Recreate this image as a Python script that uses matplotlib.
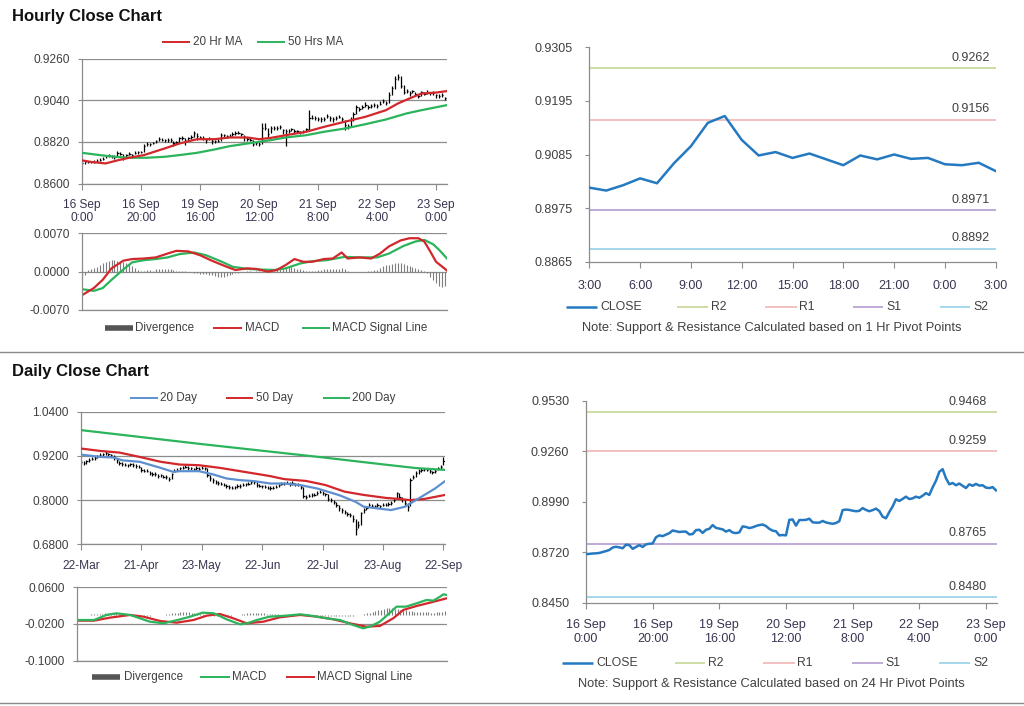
import numpy as np
import matplotlib
matplotlib.use("Agg")
import matplotlib.pyplot as plt
from matplotlib.lines import Line2D
from matplotlib.ticker import FormatStrFormatter

plt.rcParams['font.family'] = ['Liberation Sans', 'DejaVu Sans']

# ---------------- data ----------------
# hourly closes, 16 Sep 0:00 .. 23 Sep 3:00 (trading hours only)
hourly_close = [
    0.8710, 0.8711, 0.8713, 0.8714, 0.8716, 0.8721, 0.8726, 0.8732, 0.8745, 0.8749,
    0.8746, 0.8741, 0.8760, 0.8758, 0.8738, 0.8748, 0.8758, 0.8748, 0.8762, 0.8765,
    0.8767, 0.8800, 0.8810, 0.8806, 0.8814, 0.8822, 0.8836, 0.8832, 0.8828, 0.8830,
    0.8830, 0.8815, 0.8817, 0.8838, 0.8840, 0.8823, 0.8840, 0.8845, 0.8865, 0.8850,
    0.8846, 0.8842, 0.8830, 0.8838, 0.8825, 0.8822, 0.8826, 0.8858, 0.8855, 0.8849,
    0.8853, 0.8860, 0.8865, 0.8868, 0.8860, 0.8845, 0.8835, 0.8832, 0.8810, 0.8812,
    0.8810, 0.8893, 0.8895, 0.8862, 0.8892, 0.8892, 0.8893, 0.8899, 0.8880, 0.8878,
    0.8878, 0.8887, 0.8879, 0.8875, 0.8872, 0.8876, 0.8886, 0.8945, 0.8948, 0.8946,
    0.8942, 0.8939, 0.8941, 0.8956, 0.8946, 0.8939, 0.8945, 0.8953, 0.8940, 0.8910,
    0.8901, 0.8935, 0.8965, 0.9003, 0.8994, 0.9005, 0.9017, 0.9004, 0.9008, 0.9017,
    0.9011, 0.9022, 0.9036, 0.9026, 0.9067, 0.9102, 0.9150, 0.9164, 0.9115, 0.9083,
    0.9090, 0.9078, 0.9087, 0.9075, 0.9063, 0.9083, 0.9075, 0.9085, 0.9076, 0.9078,
    0.9065, 0.9063, 0.9068, 0.9051,
]
# bar high / low distance from close, in pips (0.0001)
hourly_hi_pips = [
    6, 5, 7, 6, 8, 6, 7, 9, 8, 7, 6, 8, 9, 7, 20, 8, 7, 9, 8, 7,
    6, 10, 9, 8, 7, 9, 10, 8, 7, 8, 9, 7, 8, 10, 9, 17, 7, 9, 12, 15,
    7, 8, 9, 7, 8, 6, 7, 10, 9, 8, 9, 10, 11, 9, 8, 10, 9, 8, 22, 9,
    8, 28, 25, 30, 10, 9, 8, 9, 10, 8, 9, 8, 9, 8, 7, 9, 8, 42, 12, 10,
    9, 10, 11, 9, 8, 10, 9, 11, 10, 25, 12, 14, 10, 12, 11, 10, 12, 10, 11, 9,
    10, 12, 11, 12, 14, 15, 15, 15, 50, 35, 10, 12, 9, 10, 12, 8, 9, 10, 8, 9,
    10, 8, 9, 8,
]
hourly_lo_pips = [
    8, 7, 6, 8, 7, 9, 8, 10, 12, 8, 9, 10, 19, 9, 12, 10, 9, 12, 8, 9,
    8, 35, 10, 9, 8, 10, 12, 9, 8, 9, 10, 18, 9, 21, 9, 20, 17, 10, 20, 18,
    9, 10, 15, 9, 16, 10, 9, 32, 10, 9, 10, 9, 8, 9, 10, 18, 12, 10, 12, 10,
    12, 83, 10, 15, 25, 10, 9, 10, 18, 80, 12, 10, 11, 10, 12, 9, 10, 60, 9, 10,
    11, 12, 9, 10, 15, 12, 10, 9, 12, 30, 15, 35, 35, 38, 12, 10, 11, 12, 10, 12,
    10, 9, 12, 10, 40, 35, 50, 15, 10, 12, 10, 14, 10, 12, 14, 20, 10, 12, 10, 11,
    15, 10, 12, 10,
]
hourly_tick_labels = ['16 Sep\n0:00', '16 Sep\n20:00', '19 Sep\n16:00', '20 Sep\n12:00',
                      '21 Sep\n8:00', '22 Sep\n4:00', '23 Sep\n0:00']

ma20_x = [0, 3, 8, 12, 16, 21, 28, 33, 39, 45, 50, 56, 60, 64, 69, 76, 82, 89, 96, 103,
          107, 111, 115, 120, 123.7]
ma20_hr = [0.8722, 0.8714, 0.8706, 0.8722, 0.8736, 0.8750, 0.8785, 0.8811, 0.8834, 0.8834,
           0.8843, 0.8843, 0.8834, 0.8841, 0.8855, 0.8873, 0.8899, 0.8926, 0.8952, 0.8987,
           0.9022, 0.9049, 0.9075, 0.9080, 0.9088]
ma50_x = [0, 6, 11, 16, 22, 28, 33, 39, 45, 50, 56, 60, 64, 69, 76, 82, 89, 96, 103, 110,
          115, 123.7]
ma50_hr = [0.8762, 0.8750, 0.8741, 0.8736, 0.8736, 0.8741, 0.8750, 0.8762, 0.8780, 0.8797,
           0.8811, 0.8820, 0.8829, 0.8843, 0.8855, 0.8873, 0.8890, 0.8913, 0.8938, 0.8970,
           0.8987, 0.9014]

# hourly MACD
macd_hr_x = [0, 4, 7, 10, 14, 17, 21, 25, 29, 32, 36, 40, 44, 49, 52, 56, 59, 63, 66, 69,
             72, 75, 78, 82, 85, 88, 90, 94, 98, 101, 104, 108, 111, 114, 116, 118, 120, 123.7]
macd_hr = [-0.0043, -0.0030, -0.0015, 0.0006, 0.0020, 0.0023, 0.0024, 0.0026, 0.0033, 0.0038,
           0.0037, 0.0030, 0.0020, 0.0009, 0.0003, 0.0006, 0.0005, 0.0000, 0.0003, 0.0012,
           0.0023, 0.0018, 0.0018, 0.0023, 0.0024, 0.0035, 0.0024, 0.0026, 0.0024, 0.0033,
           0.0046, 0.0057, 0.0061, 0.0061, 0.0055, 0.0037, 0.0018, 0.0002]
signal_hr_x = [0, 4, 7, 10, 14, 17, 21, 25, 29, 33, 38, 42, 47, 51, 56, 60, 65, 69, 74, 78,
               83, 89, 94, 100, 104, 109, 113, 116, 119, 121, 123.7]
signal_hr = [-0.0032, -0.0035, -0.0030, -0.0015, 0.0004, 0.0017, 0.0021, 0.0023, 0.0026, 0.0032,
             0.0035, 0.0030, 0.0019, 0.0009, 0.0005, 0.0004, 0.0003, 0.0006, 0.0015, 0.0019,
             0.0021, 0.0027, 0.0026, 0.0026, 0.0033, 0.0047, 0.0055, 0.0058, 0.0050, 0.0040,
             0.0024]
# divergence, units of 0.001
div_hr = [
    -0.9, -0.6, 0.3, 0.5, 0.6, 0.9, 1.2, 1.5, 1.7, 1.9,
    2.1, 2.1, 2.0, 2.0, 1.8, 1.6, 1.4, 1.0, 0.6, 0.3,
    0.2, 0.2, 0.3, 0.3, 0.2, 0.4, 0.5, 0.5, 0.5, 0.4,
    0.4, 0.3, 0.2, 0.1, 0.1, 0.1, 0.0, -0.1, -0.2, -0.3,
    -0.4, -0.5, -0.5, -0.6, -0.7, -0.8, -0.9, -1.0, -0.9, -0.8,
    -0.6, -0.4, -0.3, -0.2, -0.1, 0.0, 0.1, 0.1, 0.0, 0.1,
    0.1, 0.0, -0.1, 0.0, 0.1, 0.2, 0.3, 0.5, 0.7, 0.8,
    0.9, 0.8, 0.7, 0.5, 0.4, 0.3, 0.2, 0.1, 0.1, 0.2,
    0.3, 0.3, 0.4, 0.4, 0.4, 0.5, 0.5, 0.5, 0.6, 0.4,
    0.1, -0.1, -0.1, 0.0, -0.1, 0.0, 0.0, 0.1, 0.2, 0.3,
    0.3, 0.6, 1.0, 1.2, 1.3, 1.4, 1.5, 1.6, 1.5, 1.4,
    1.2, 1.0, 0.8, 0.6, 0.4, 0.3, 0.1, -0.2, -0.9, -1.5,
    -2.1, -2.6, -2.8, -2.7,
]

# last 24 hours (3:00 .. 3:00) pivot levels
hr24_labels = ['3:00', '6:00', '9:00', '12:00', '15:00', '18:00', '21:00', '0:00', '3:00']
pivot_1h = {'R2': 0.9262, 'R1': 0.9156, 'S1': 0.8971, 'S2': 0.8892}
pivot_24h = {'R2': 0.9468, 'R1': 0.9259, 'S1': 0.8765, 'S2': 0.8480}

# daily closes 22-Mar .. 22-Sep
daily_close = [
    0.903, 0.900, 0.905, 0.908, 0.912, 0.915, 0.919, 0.922, 0.925, 0.927,
    0.925, 0.922, 0.916, 0.909, 0.902, 0.898, 0.896, 0.894, 0.897, 0.895,
    0.893, 0.890, 0.883, 0.880, 0.879, 0.873, 0.871, 0.870, 0.866, 0.867,
    0.864, 0.862, 0.858, 0.870, 0.880, 0.883, 0.886, 0.888, 0.891, 0.887,
    0.886, 0.884, 0.887, 0.885, 0.888, 0.886, 0.868, 0.860, 0.854, 0.850,
    0.847, 0.844, 0.842, 0.838, 0.836, 0.834, 0.835, 0.838, 0.839, 0.841,
    0.843, 0.845, 0.848, 0.848, 0.841, 0.839, 0.837, 0.836, 0.834, 0.832,
    0.834, 0.836, 0.840, 0.845, 0.846, 0.847, 0.844, 0.846, 0.843, 0.841,
    0.836, 0.812, 0.809, 0.812, 0.814, 0.815, 0.820, 0.823, 0.819, 0.816,
    0.804, 0.800, 0.796, 0.787, 0.778, 0.772, 0.768, 0.763, 0.760, 0.750,
    0.722, 0.733, 0.765, 0.772, 0.778, 0.787, 0.785, 0.783, 0.786, 0.784,
    0.787, 0.788, 0.789, 0.791, 0.800, 0.818, 0.809, 0.802, 0.791, 0.782,
    0.854, 0.863, 0.874, 0.879, 0.881, 0.884, 0.883, 0.879, 0.875, 0.880,
    0.886, 0.890, 0.906,
]
# daily high / low distance from close, units of 0.001
daily_hi = [
    5, 6, 4, 5, 4, 5, 4, 5, 4, 5, 4, 4, 6, 5, 4, 5, 4, 5, 4, 5,
    4, 5, 6, 4, 5, 6, 4, 5, 4, 5, 4, 5, 4, 4, 5, 4, 5, 4, 5, 6,
    5, 4, 5, 4, 5, 4, 18, 8, 6, 5, 4, 5, 4, 5, 4, 5, 4, 5, 4, 5,
    4, 5, 4, 5, 7, 5, 4, 5, 4, 5, 4, 5, 4, 5, 4, 5, 4, 5, 4, 5,
    4, 24, 5, 4, 5, 4, 5, 4, 5, 4, 12, 5, 4, 9, 9, 6, 5, 5, 4, 10,
    28, 10, 4, 6, 5, 6, 5, 4, 5, 4, 5, 4, 5, 6, 5, 4, 9, 7, 11, 9,
    5, 6, 5, 6, 5, 4, 5, 6, 5, 4, 5, 6, 11,
]
daily_lo = [
    5, 4, 6, 5, 4, 5, 4, 5, 4, 5, 4, 5, 7, 8, 7, 5, 4, 5, 4, 5,
    5, 4, 7, 5, 4, 6, 5, 4, 5, 4, 5, 4, 6, 13, 5, 4, 5, 4, 5, 4,
    4, 5, 4, 5, 4, 5, 5, 8, 7, 6, 5, 4, 5, 6, 5, 4, 5, 4, 5, 4,
    5, 4, 5, 4, 5, 4, 5, 4, 5, 4, 5, 4, 5, 4, 5, 4, 5, 4, 5, 4,
    5, 6, 5, 4, 5, 4, 5, 4, 5, 5, 6, 5, 6, 7, 8, 6, 5, 6, 5, 9,
    17, 8, 32, 7, 6, 5, 4, 5, 4, 5, 4, 5, 4, 5, 5, 16, 5, 6, 5, 12,
    70, 6, 12, 7, 5, 6, 5, 6, 5, 6, 5, 6, 12,
]
daily_tick_labels = ['22-Mar', '21-Apr', '23-May', '22-Jun', '22-Jul', '23-Aug', '22-Sep']

ma20d_x = [0, 7, 12, 15, 21.5, 29, 33.6, 36, 43, 48, 53, 58, 63, 69, 74, 80, 86, 94, 100, 103,
           108, 113, 118, 120, 124, 129, 132.6]
ma20d = [0.9236, 0.9173, 0.9155, 0.908, 0.9038, 0.8875, 0.8767, 0.8785, 0.8785, 0.870,
         0.8587, 0.8542, 0.8515, 0.845, 0.845, 0.8406, 0.8316, 0.8136, 0.7955, 0.782,
         0.7775, 0.773, 0.782, 0.791, 0.809, 0.8316, 0.8515]
ma50d_x = [0, 7, 14, 21.5, 29, 36, 43, 50.6, 58, 65, 69, 74, 82, 89, 96, 103, 111, 116, 120,
           125, 132.6]
ma50d = [0.940, 0.9335, 0.929, 0.917, 0.904, 0.8965, 0.8947, 0.8875, 0.8785, 0.870, 0.865,
         0.857, 0.852, 0.841, 0.823, 0.814, 0.806, 0.803, 0.800, 0.803, 0.814]
ma200d_x = [0, 22, 44, 66, 88, 110, 122, 132.6]
ma200d = [0.990, 0.971, 0.952, 0.934, 0.916, 0.897, 0.887, 0.882]

# daily MACD
macd_d_x = [0, 6, 10.5, 14, 19, 22.5, 26, 31, 36, 40.5, 45, 49, 53.6, 58.4, 61, 64.4, 69, 75,
            80, 84.7, 89.5, 94.3, 99, 102.6, 105, 108.6, 112, 114.6, 118, 121.8, 125.4, 127.8,
            130.2, 131.4, 132.6]
macd_d = [-0.0113, -0.0113, -0.0003, 0.0033, -0.0003, -0.0076, -0.0149, -0.0185, -0.0113, -0.004,
          0.0047, 0.0033, -0.0098, -0.0207, -0.0185, -0.0113, -0.004, -0.0018, 0.0011, -0.0025,
          -0.0076, -0.0113, -0.0222, -0.0294, -0.0258, -0.0149, 0.0033, 0.0178, 0.0178, 0.0251,
          0.0324, 0.0309, 0.0396, 0.0447, 0.0433]
signal_d_x = [0, 6, 11.7, 18.9, 23.7, 29.7, 35.7, 41.7, 46.5, 51.2, 56, 60.8, 66.8, 72.7, 80,
              85.9, 91.9, 97.9, 103.8, 108.6, 113.4, 117, 121.8, 126.6, 132.6]
signal_d = [-0.0127, -0.0127, -0.0062, -0.0003, -0.004, -0.0134, -0.0171, -0.0113, -0.0018, 0.0018,
            -0.0076, -0.0185, -0.0149, -0.0054, -0.0003, -0.004, -0.0098, -0.0185, -0.0258, -0.0243,
            -0.0076, 0.0106, 0.0193, 0.0265, 0.036]
div_d = [
    0.5, 0.5, 0.6, 0.6, 0.7, 0.8, 1.0, 1.5, 2.0, 2.5,
    3.0, 3.5, 3.8, 3.5, 3.0, 2.2, 1.4, 0.6, 0.0, -0.6,
    -1.2, -1.6, -1.8, -2.0, -2.0, -1.8, -1.5, -1.2, -0.8, -0.5,
    -0.2, 0.3, 1.0, 2.0, 3.0, 4.0, 5.0, 5.8, 6.2, 6.0,
    5.4, 4.6, 3.6, 2.6, 1.6, 0.8, 0.2, -0.6, -1.2, -1.8,
    -2.4, -2.8, -3.0, -2.8, -2.4, -1.8, -1.2, -0.4, 0.5, 1.5,
    2.5, 3.4, 4.0, 4.5, 4.8, 4.5, 4.0, 3.4, 2.8, 2.2,
    1.6, 1.2, 0.9, 0.6, 0.4, 0.3, 0.3, 0.4, 0.5, 0.4,
    0.3, 0.0, -0.3, -0.6, -0.9, -1.2, -1.5, -1.8, -2.0, -2.2,
    -2.4, -2.6, -2.8, -3.0, -3.2, -3.2, -3.0, -2.6, -2.2, -1.6,
    -1.0, -0.4, 0.6, 2.0, 3.5, 5.0, 6.5, 8.0, 9.5, 11.0,
    12.5, 14.0, 15.0, 14.5, 13.5, 12.5, 11.5, 10.5, 9.5, 8.5,
    7.8, 7.2, 6.8, 6.4, 6.0, 5.6, 5.3, 5.0, 5.0, 5.3,
    5.8, 6.3, 7.5,
]

# ---------------- styling ----------------
W, H = 1024, 706
RED = '#d2282c'
GREEN = '#2bb45c'
BLUE20 = '#5d8fd0'
CLOSE_BLUE = '#2479c1'
LEVEL_COL = {'R2': '#c8da9c', 'R1': '#f1bcbc', 'S1': '#b9a5d3', 'S2': '#9fd5e8'}
AX_GRAY = '#8c8c8c'
TXT = '#404040'
XTXT = '#3a3450'

fig = plt.figure(figsize=(W / 100, H / 100), dpi=100)


def fx(px):
    return px / W


def fy(py):
    return 1 - py / H


def add_ax(left, top, right, bottom):
    return fig.add_axes([left / W, 1 - bottom / H, (right - left) / W, (bottom - top) / H])


def style(ax, grid=True, size=8.6):
    for s in ['top', 'right']:
        ax.spines[s].set_visible(False)
    for s in ['left', 'bottom']:
        ax.spines[s].set_color(AX_GRAY)
        ax.spines[s].set_linewidth(0.9)
    ax.tick_params(axis='both', colors=AX_GRAY, length=3, width=0.8, labelsize=size)
    ax.tick_params(axis='y', labelcolor=TXT, pad=6)
    ax.tick_params(axis='x', labelcolor=XTXT)
    ax.yaxis.set_major_formatter(FormatStrFormatter('%.4f'))
    if grid:
        ax.yaxis.grid(True, color=AX_GRAY, lw=0.9)
    ax.set_axisbelow(True)


def leg_line(x0, x1, y, color, lw=1.4):
    fig.add_artist(Line2D([fx(x0), fx(x1)], [fy(y), fy(y)], color=color, lw=lw,
                          solid_capstyle='butt', transform=fig.transFigure))


def leg_text(x, y, s, size=8.4):
    fig.text(fx(x), fy(y), s, ha='left', va='center', fontsize=size, color=TXT)


def ohlc(ax, close, hi, lo, unit, tick):
    x = np.arange(len(close))
    c = np.array(close)
    ax.vlines(x, c - np.array(lo) * unit, c + np.array(hi) * unit, color='black', lw=0.9, zorder=2)
    ax.hlines(c, x, x + tick, color='black', lw=0.9, zorder=2)


# titles and separators
fig.text(fx(12), fy(21), 'Hourly Close Chart', fontsize=12, fontweight='bold', color='#111111')
fig.text(fx(12), fy(376), 'Daily Close Chart', fontsize=12, fontweight='bold', color='#111111')
for yy in (352, 703):
    fig.add_artist(Line2D([0, 1], [fy(yy), fy(yy)], color='#8a8a8a', lw=1.0,
                          transform=fig.transFigure))

# ---- hourly bars with MAs ----
ax1 = add_ax(82, 58.5, 447, 183.5)
style(ax1)
ohlc(ax1, hourly_close, hourly_hi_pips, hourly_lo_pips, 0.0001, 0.45)
ax1.plot(ma50_x, ma50_hr, color=GREEN, lw=1.6, zorder=3)
ax1.plot(ma20_x, ma20_hr, color=RED, lw=1.6, zorder=3)
ax1.set_xlim(0, 123.7)
ax1.set_ylim(0.86, 0.926)
ax1.set_yticks([0.86, 0.882, 0.904, 0.926])
ax1.set_xticks(range(0, 121, 20))
ax1.set_xticklabels(hourly_tick_labels, linespacing=1.1)
ax1.tick_params(axis='x', length=4, pad=7)
leg_line(162, 190, 42, RED)
leg_text(193, 42, '20 Hr MA')
leg_line(257, 285, 42, GREEN)
leg_text(288, 42, '50 Hrs MA')

# ---- hourly MACD ----
ax2 = add_ax(82, 233.3, 447, 310)
style(ax2)
ax2.vlines(np.arange(len(div_hr)), 0, np.array(div_hr) * 0.001, color='#7d7d7d', lw=0.8)
ax2.plot(signal_hr_x, signal_hr, color=GREEN, lw=1.6)
ax2.plot(macd_hr_x, macd_hr, color=RED, lw=1.6)
ax2.set_xlim(0, 123.7)
ax2.set_ylim(-0.007, 0.007)
ax2.set_yticks([-0.007, 0.0, 0.007])
ax2.set_xticks([])
leg_line(105, 133, 328.3, '#555555', lw=4)
leg_text(135, 328.3, 'Divergence')
leg_line(213, 242, 328.3, RED)
leg_text(245, 328.3, 'MACD')
leg_line(302, 330, 328.3, GREEN)
leg_text(332, 328.3, 'MACD Signal Line')

# ---- last 24 hours vs 1 Hr pivots ----
ax3 = add_ax(589.3, 47.3, 995.7, 261.7)
style(ax3, grid=False, size=9)
last24 = hourly_close[-25:]
ax3.plot(np.arange(len(last24)), last24, color=CLOSE_BLUE, lw=1.8, zorder=3)
for name, lvl in pivot_1h.items():
    ax3.axhline(lvl, color=LEVEL_COL[name], lw=1.3)
    ax3.annotate('%.4f' % lvl, xy=(0.986, lvl), xycoords=ax3.get_yaxis_transform(),
                 xytext=(0, 7.5), textcoords='offset points', ha='right', va='center',
                 fontsize=9, color=TXT)
ax3.set_xlim(0, 24)
ax3.set_ylim(0.8865, 0.9305)
ax3.set_yticks([0.8865, 0.8975, 0.9085, 0.9195, 0.9305])
ax3.set_xticks(range(0, 25, 3))
ax3.set_xticklabels(hr24_labels)
ax3.tick_params(axis='x', length=4, pad=9)
ax3.tick_params(axis='y', pad=9)
leg_line(566, 597, 306.7, CLOSE_BLUE, lw=1.8)
leg_text(600, 306.7, 'CLOSE', 8.8)
for (x0, x1, tx), name in zip([(677, 708, 711), (765, 797, 799), (853, 883, 886), (940, 970, 973)],
                              ['R2', 'R1', 'S1', 'S2']):
    leg_line(x0, x1, 306.7, LEVEL_COL[name], lw=1.3)
    leg_text(tx, 306.7, name, 8.8)
fig.text(fx(772), fy(327.7), 'Note: Support & Resistance Calculated based on 1 Hr Pivot Points',
         ha='center', va='center', fontsize=9.3, color=TXT)

# ---- daily bars with MAs ----
ax4 = add_ax(81, 411.7, 445, 544.3)
style(ax4)
ohlc(ax4, daily_close, daily_hi, daily_lo, 0.001, 0.45)
ax4.plot(ma200d_x, ma200d, color=GREEN, lw=1.6, zorder=3)
ax4.plot(ma50d_x, ma50d, color=RED, lw=1.6, zorder=3)
ax4.plot(ma20d_x, ma20d, color=BLUE20, lw=1.6, zorder=3)
ax4.set_xlim(0, 132.6)
ax4.set_ylim(0.68, 1.04)
ax4.set_yticks([0.68, 0.80, 0.92, 1.04])
ax4.set_xticks(range(0, 133, 22))
ax4.set_xticklabels(daily_tick_labels)
ax4.tick_params(axis='x', length=4, pad=7)
leg_line(130, 158, 398.3, BLUE20)
leg_text(160, 398.3, '20 Day')
leg_line(226, 253, 398.3, RED)
leg_text(256, 398.3, '50 Day')
leg_line(323, 350, 398.3, GREEN)
leg_text(352, 398.3, '200 Day')

# ---- daily MACD ----
ax5 = add_ax(77.3, 587.3, 446.7, 660.7)
style(ax5)
ax5.vlines(np.arange(len(div_d)), 0, np.array(div_d) * 0.001, color='#7d7d7d', lw=0.8)
ax5.plot(signal_d_x, signal_d, color=RED, lw=1.6)
ax5.plot(macd_d_x, macd_d, color=GREEN, lw=1.6)
ax5.set_xlim(0, 132.6)
ax5.set_ylim(-0.10, 0.06)
ax5.set_yticks([-0.10, -0.02, 0.06])
ax5.set_xticks([])
leg_line(92, 120, 676.7, '#555555', lw=4)
leg_text(124, 676.7, 'Divergence')
leg_line(200, 230, 676.7, GREEN)
leg_text(232, 676.7, 'MACD')
leg_line(286, 315, 676.7, RED)
leg_text(317, 676.7, 'MACD Signal Line')

# ---- hourly closes vs 24 Hr pivots ----
ax6 = add_ax(586, 400.7, 997.3, 602.7)
style(ax6, grid=False, size=9)
ax6.plot(np.arange(len(hourly_close)), hourly_close, color=CLOSE_BLUE, lw=1.8, zorder=3)
for name, lvl in pivot_24h.items():
    ax6.axhline(lvl, color=LEVEL_COL[name], lw=1.3)
    ax6.annotate('%.4f' % lvl, xy=(0.974, lvl), xycoords=ax6.get_yaxis_transform(),
                 xytext=(0, 7.6), textcoords='offset points', ha='right', va='center',
                 fontsize=9, color=TXT)
ax6.set_xlim(0, 123.4)
ax6.set_ylim(0.845, 0.953)
ax6.set_yticks([0.845, 0.872, 0.899, 0.926, 0.953])
ax6.set_xticks(range(0, 121, 20))
ax6.set_xticklabels(hourly_tick_labels, linespacing=1.2)
ax6.tick_params(axis='x', length=4, pad=8)
ax6.tick_params(axis='y', pad=9)
leg_line(562, 593, 662.7, CLOSE_BLUE, lw=1.8)
leg_text(596, 662.7, 'CLOSE', 8.8)
for (x0, x1, tx), name in zip([(675, 705, 708), (763, 795, 797), (852, 883, 885), (939, 970, 973)],
                              ['R2', 'R1', 'S1', 'S2']):
    leg_line(x0, x1, 662.7, LEVEL_COL[name], lw=1.3)
    leg_text(tx, 662.7, name, 8.8)
fig.text(fx(771), fy(684), 'Note: Support & Resistance Calculated based on 24 Hr Pivot Points',
         ha='center', va='center', fontsize=9.3, color=TXT)

fig.savefig('out.png', dpi=100)
